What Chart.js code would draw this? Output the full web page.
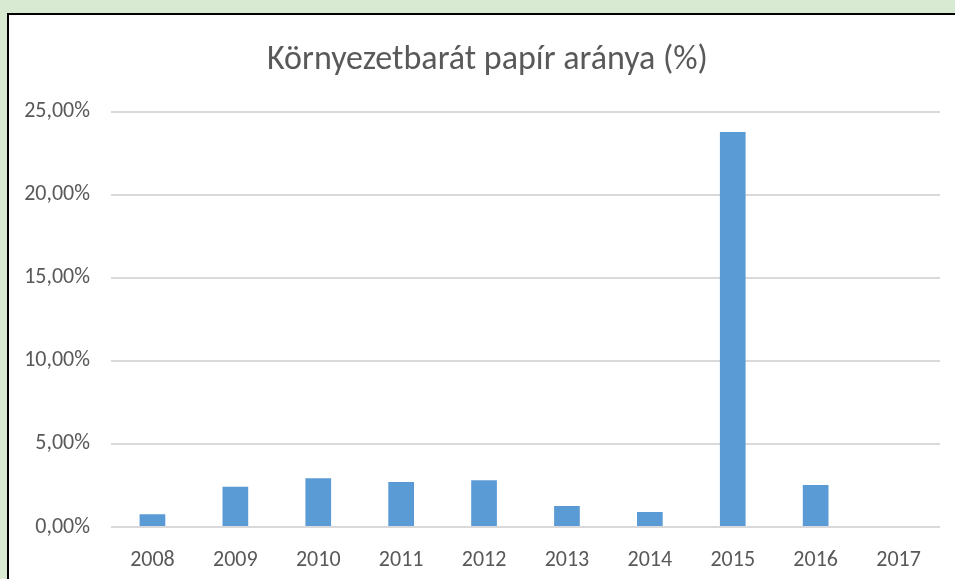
<!DOCTYPE html>
<html>
<head>
<meta charset="utf-8">
<script src="https://cdn.jsdelivr.net/npm/chart.js@4"></script>
<style>
  html, body { margin: 0; padding: 0; }
  body { width: 955px; height: 579px; background: #d9ead3; overflow: hidden; position: relative; }
  #panel { position: absolute; left: 7px; top: 13px; width: 960px; height: 580px; background: #fff;
           border-left: 2px solid #000; border-top: 2px solid #000; }
  #wrap { position: absolute; left: 0; top: 0; width: 955px; height: 579px; }
</style>
</head>
<body>
<div id="panel"></div>
<div id="wrap"><canvas id="myChart"></canvas></div>
<script>
const years = ['2008', '2009', '2010', '2011', '2012', '2013', '2014', '2015', '2016', '2017'];
const share = [0.77, 2.43, 2.93, 2.71, 2.81, 1.27, 0.90, 23.78, 2.53, 0];
const titleText = 'Környezetbarát papír aránya (%)';

const font = "Carlito, Lato, 'Liberation Sans', sans-serif";

// title in the original is centred on the whole panel, not the plot box
const shiftTitle = {
    id: 'shiftTitle',
    afterLayout(chart) {
        if (chart.titleBlock) chart.titleBlock.left += 35;
    }
};

var ctx = document.getElementById('myChart').getContext('2d');
var myChart = new Chart(ctx, {
    type: 'bar',
    data: {
        labels: years,
        datasets: [{
            data: share,
            backgroundColor: '#5b9bd5',
            barPercentage: 0.62,
            categoryPercentage: 0.5
        }]
    },
    plugins: [shiftTitle],
    options: {
        responsive: true,
        maintainAspectRatio: false,
        animation: false,
        layout: { padding: { left: 0, right: 15, top: 0, bottom: 0 } },
        plugins: {
            legend: { display: false },
            tooltip: { enabled: false },
            title: {
                display: true,
                text: titleText,
                color: '#595959',
                font: { family: font, size: 34, weight: 'normal' },
                padding: { top: 40, bottom: 31 }
            }
        },
        scales: {
            x: {
                grid: { display: false },
                border: { display: false },
                ticks: { color: '#595959', font: { family: font, size: 22 }, padding: 12 },
                afterFit: function (s) { s.height = 52; }
            },
            y: {
                min: 0,
                max: 25,
                grid: { color: '#d9d9d9', lineWidth: 2, drawTicks: false },
                border: { display: false },
                ticks: {
                    stepSize: 5,
                    color: '#595959',
                    font: { family: font, size: 22 },
                    padding: 21,
                    callback: v => v.toFixed(2).replace('.', ',') + '%'
                },
                afterFit: function (s) { s.width = 111; }
            }
        }
    }
});
</script>
</body>
</html>
